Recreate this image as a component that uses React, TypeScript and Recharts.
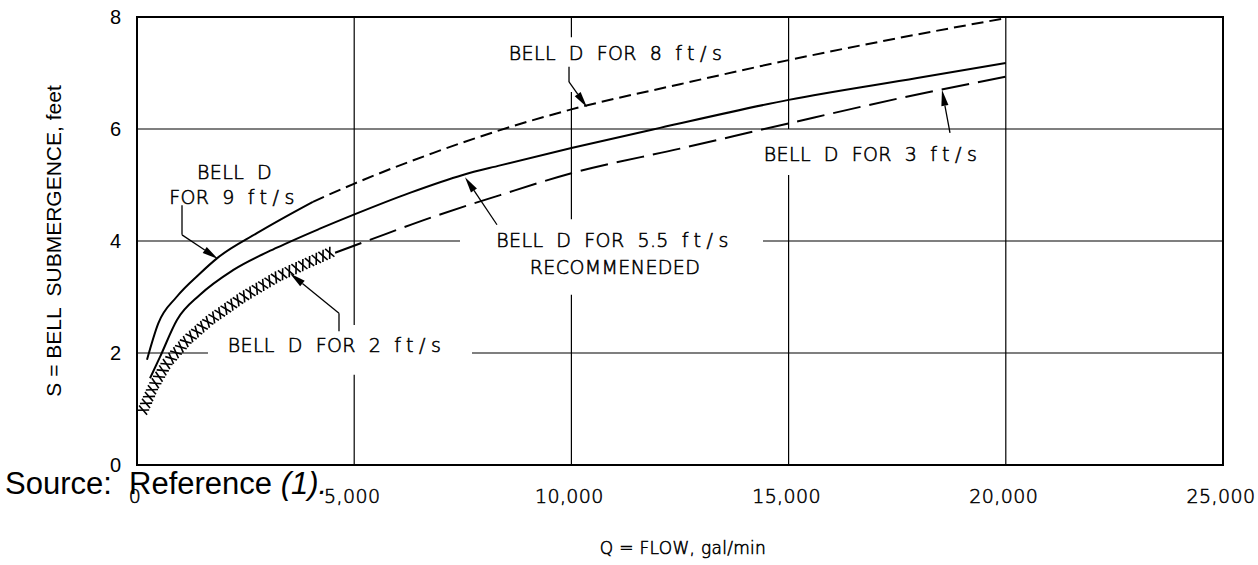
import React from 'react';
import { LineChart, Line, XAxis, YAxis, ReferenceLine, ReferenceArea, ReferenceDot } from 'recharts';

// Flow Q (gal/min) and bell submergence S (ft) for each bell velocity curve
const Q_9FPS = [230, 490, 910, 1450, 1840, 2760, 4050];
const S_9FPS = [1.88, 2.53, 3.0, 3.42, 3.69, 4.14, 4.7];

const Q_8FPS = [4050, 5020, 6810, 8360, 10000, 12500, 15000, 17500, 20000];
const S_8FPS = [4.7, 5.03, 5.57, 5.98, 6.35, 6.8, 7.23, 7.62, 7.98];

const Q_55FPS = [300, 530, 920, 1450, 2210, 3220, 4210, 5020, 6280, 7500, 8360, 10000, 12040, 15000, 17960, 20000];
const S_55FPS = [1.55, 1.93, 2.59, 3.04, 3.48, 3.88, 4.22, 4.48, 4.86, 5.18, 5.35, 5.66, 6.02, 6.52, 6.91, 7.18];

const Q_3FPS = [4560, 5360, 6810, 8360, 10000, 12500, 15000, 17500, 20100];
const S_3FPS = [3.79, 4.02, 4.43, 4.82, 5.21, 5.65, 6.1, 6.54, 6.95];

const Q_2FPS = [140, 370, 690, 1150, 1680, 2440, 3220, 4440];
const S_2FPS = [0.98, 1.39, 1.82, 2.23, 2.59, 3.0, 3.36, 3.79];

const X_TICKS = [0, 5000, 10000, 15000, 20000, 25000];
const Y_TICKS = [0, 2, 4, 6, 8];

const rows = (q: number[], s: number[]) => q.map((v, i) => ({ q: v, s: s[i] }));

// grid lines, broken where the callouts sit
const GRID_SEGMENTS: [number, number, number, number][] = [
  [5000, 8, 5000, 2.5],
  [5000, 1.61, 5000, 0],
  [10000, 8, 10000, 7.64],
  [10000, 6.66, 10000, 4.39],
  [10000, 3.04, 10000, 0],
  [15000, 8, 15000, 6],
  [15000, 5.18, 15000, 0],
  [20000, 8, 20000, 0],
  [0, 6, 25000, 6],
  [0, 4, 7436, 4],
  [14410, 4, 25000, 4],
  [0, 2, 1634, 2],
  [7712, 2, 25000, 2],
];

const NOTES = [
  { text: 'BELL D FOR 8 ft/s', q: 11073, s: 7.35 },
  { text: 'BELL D', q: 2245, s: 5.24 },
  { text: 'FOR 9 ft/s', q: 2245, s: 4.79 },
  { text: 'BELL D FOR 3 ft/s', q: 16943, s: 5.56 },
  { text: 'BELL D FOR 5.5 ft/s', q: 11004, s: 4.02 },
  { text: 'RECOMMENEDED', q: 11004, s: 3.53 },
  { text: 'BELL D FOR 2 ft/s', q: 4604, s: 2.14 },
];

// leader polylines, last point is the arrow tip
const LEADERS: [number, number][][] = [
  [[1036, 4.64], [1036, 4.11], [1865, 3.68]],
  [[9945, 7.11], [9945, 6.84], [10359, 6.39]],
  [[8287, 4.29], [7551, 5.14]],
  [[18715, 5.93], [18531, 6.7]],
  [[4650, 2.39], [4650, 2.71], [3522, 3.42]],
];

const CAD_FONT = "'DejaVu Sans', sans-serif";
// thin drafting lettering: extra-light face with a hairline outline
const cadText: React.CSSProperties = {
  fontFamily: CAD_FONT,
  fontWeight: 200,
  fill: '#000',
  stroke: '#000',
  strokeWidth: 0.55,
};
const noteStyle: React.CSSProperties = { ...cadText, fontSize: 19, letterSpacing: 0.4 };

const leaderShape = (head: boolean) => (p: any) => {
  const { x1, y1, x2, y2 } = p;
  const a = Math.atan2(y2 - y1, x2 - x1);
  const len = 16;
  const hw = 3.6;
  const bx = x2 - len * Math.cos(a);
  const by = y2 - len * Math.sin(a);
  const nx = -Math.sin(a) * hw;
  const ny = Math.cos(a) * hw;
  return (
    <g>
      <line x1={x1} y1={y1} x2={head ? bx : x2} y2={head ? by : y2} stroke="#000" strokeWidth={1.3} />
      {head && <polygon points={`${x2},${y2} ${bx + nx},${by + ny} ${bx - nx},${by - ny}`} fill="#000" />}
    </g>
  );
};

// lowercase unit words are set wide, like the drafting font
const noteShape = (text: string) => (p: any) => {
  const words = text.split(' ');
  return (
    <text x={p.cx} y={p.cy} textAnchor="middle" dominantBaseline="central" style={{ ...noteStyle, whiteSpace: 'pre' }}>
      {words.map((w, i) => (
        <tspan key={i} letterSpacing={/[a-z]/.test(w) ? 5.5 : 0.4}>
          {w + (i < words.length - 1 ? '  ' : '')}
        </tspan>
      ))}
    </text>
  );
};

// the 2 ft/s curve is drawn as a row of x marks laid along the path
const CROSS_STEP = 7.4;
let crossPrev: { x: number; y: number } | null = null;
let crossCarry = 0;
const renderCross = (p: any) => {
  const { cx, cy, index } = p;
  if (index === 0) {
    crossPrev = null;
    crossCarry = 0;
  }
  const marks: React.ReactNode[] = [];
  if (crossPrev) {
    const dx = cx - crossPrev.x;
    const dy = cy - crossPrev.y;
    const len = Math.hypot(dx, dy);
    const ang = (Math.atan2(dy, dx) * 180) / Math.PI;
    let d = crossCarry;
    while (d <= len) {
      const px = crossPrev.x + (dx / len) * d;
      const py = crossPrev.y + (dy / len) * d;
      marks.push(
        <g key={`${index}-${d.toFixed(1)}`} transform={`translate(${px} ${py}) rotate(${ang})`}>
          <line x1={-2.6} y1={-5.5} x2={2.6} y2={5.5} stroke="#000" strokeWidth={1.6} />
          <line x1={-2.6} y1={5.5} x2={2.6} y2={-5.5} stroke="#000" strokeWidth={1.6} />
        </g>
      );
      d += CROSS_STEP;
    }
    crossCarry = d - len;
  }
  crossPrev = { x: cx, y: cy };
  return <g key={`cross-${index}`}>{marks}</g>;
};

const XTitle = (p: any) => {
  const { x, y, width } = p.viewBox;
  return (
    <text x={x + width / 2 + 3} y={y + 89} textAnchor="middle" style={{ ...cadText, fontSize: 17, letterSpacing: 0.3, whiteSpace: 'pre' }}>
      {'Q = FLOW, gal/min'}
    </text>
  );
};

const YTitle = (p: any) => {
  const { x, y, height } = p.viewBox;
  const cx = x + 16;
  const cy = y + height / 2;
  return (
    <text
      x={cx}
      y={cy}
      transform={`rotate(-90 ${cx} ${cy})`}
      textAnchor="middle"
      dominantBaseline="central"
      style={{ fontFamily: "'Liberation Sans', Arial, sans-serif", fontSize: 21, whiteSpace: 'pre', fill: '#000' }}
    >
      {'S = BELL  SUBMERGENCE, feet'}
    </text>
  );
};

export default function App() {
  return (
    <div style={{ position: 'absolute', left: 0, top: 0, width: 1258, height: 565, background: '#fff' }}>
      <LineChart width={1258} height={565} margin={{ top: 17, right: 35, bottom: 5, left: 37 }}>
        <XAxis
          type="number"
          dataKey="q"
          domain={[0, 25000]}
          ticks={X_TICKS}
          interval={0}
          allowDataOverflow
          axisLine={false}
          tickLine={false}
          tickMargin={19}
          height={95}
          tickFormatter={(v: number) => v.toLocaleString('en-US')}
          tick={{ ...cadText, fontSize: 19, letterSpacing: 0.4, dx: -2 } as any}
          label={{ content: XTitle }}
        />
        <YAxis
          type="number"
          domain={[0, 8]}
          ticks={Y_TICKS}
          interval={0}
          allowDataOverflow
          axisLine={false}
          tickLine={false}
          tickMargin={10}
          width={100}
          tick={{ fill: '#000', fontFamily: "'Liberation Sans', Arial, sans-serif", fontSize: 20 }}
          label={{ content: YTitle }}
        />

        {GRID_SEGMENTS.map(([q1, s1, q2, s2], i) => (
          <ReferenceLine
            key={`grid-${i}`}
            segment={[{ x: q1, y: s1 }, { x: q2, y: s2 }]}
            stroke="#000"
            strokeWidth={1.2}
          />
        ))}
        <ReferenceArea x1={0} x2={25000} y1={0} y2={8} fill="none" stroke="#000" strokeWidth={2} />

        <Line data={rows(Q_9FPS, S_9FPS)} dataKey="s" type="monotone" stroke="#000" strokeWidth={2} dot={false} activeDot={false} isAnimationActive={false} />
        <Line data={rows(Q_8FPS, S_8FPS)} dataKey="s" type="monotone" stroke="#000" strokeWidth={2} strokeDasharray="12 6" dot={false} activeDot={false} isAnimationActive={false} />
        <Line data={rows(Q_55FPS, S_55FPS)} dataKey="s" type="monotone" stroke="#000" strokeWidth={2} dot={false} activeDot={false} isAnimationActive={false} />
        <Line data={rows(Q_3FPS, S_3FPS)} dataKey="s" type="monotone" stroke="#000" strokeWidth={2} strokeDasharray="28 9" dot={false} activeDot={false} isAnimationActive={false} />
        <Line data={rows(Q_2FPS, S_2FPS)} dataKey="s" type="monotone" stroke="none" dot={renderCross} activeDot={false} isAnimationActive={false} />

        {LEADERS.map((pts, i) =>
          pts.slice(1).map((pt, j) => (
            <ReferenceLine
              key={`lead-${i}-${j}`}
              segment={[{ x: pts[j][0], y: pts[j][1] }, { x: pt[0], y: pt[1] }]}
              shape={leaderShape(j === pts.length - 2)}
            />
          ))
        )}
        {NOTES.map((n, i) => (
          <ReferenceDot key={`note-${i}`} x={n.q} y={n.s} r={1} shape={noteShape(n.text)} />
        ))}
      </LineChart>

      <svg width={1258} height={565} style={{ position: 'absolute', left: 0, top: 0, pointerEvents: 'none' }}>
        <text x={5} y={494} style={{ fontFamily: "'Liberation Sans', Arial, sans-serif", fontSize: 31, whiteSpace: 'pre', fill: '#000' }}>
          {'Source:  Reference '}
          <tspan fontStyle="italic">(1).</tspan>
        </text>
      </svg>
    </div>
  );
}
